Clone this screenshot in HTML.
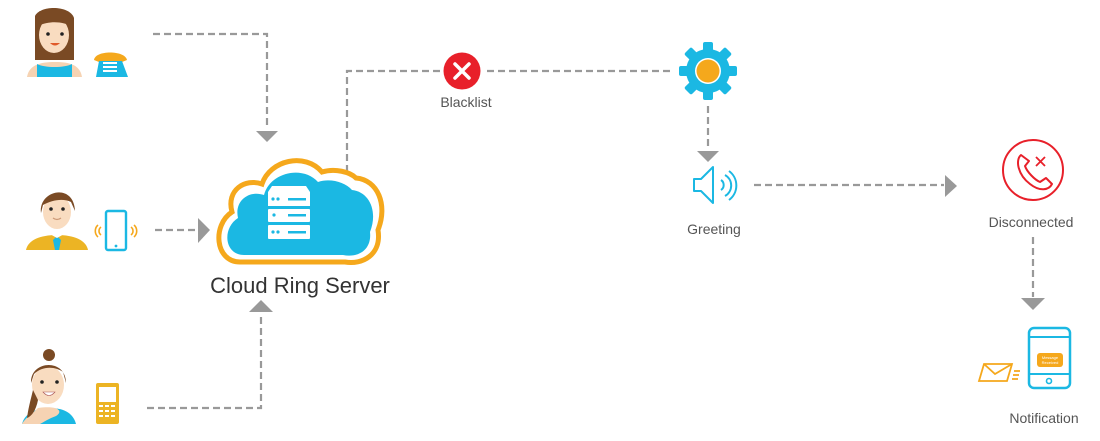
<!DOCTYPE html>
<html><head><meta charset="utf-8"><style>
html,body{margin:0;padding:0;background:#fff;width:1100px;height:441px;overflow:hidden}
svg{display:block}
text{font-family:"Liberation Sans",sans-serif}
</style></head><body>
<svg width="1100" height="441" viewBox="0 0 1100 441" xmlns="http://www.w3.org/2000/svg">
<g stroke="#999" stroke-width="2.2" fill="none" stroke-dasharray="7,4">
<path d="M153 34H267V128"/>
<path d="M155 230H198"/>
<path d="M147 408H261V314"/>
<path d="M347 172V71H444"/>
<path d="M487 71H672"/>
<path d="M708 106V150"/>
<path d="M754 185H944"/>
<path d="M1033 237V297"/>
</g>
<g fill="#999">
<path d="M256 131H278L267 142Z"/>
<path d="M198 218V243L210 230Z"/>
<path d="M249 312H273L261 300Z"/>
<path d="M697 151H719L708 162Z"/>
<path d="M945 175V197L957 186Z"/>
<path d="M1021 298H1045L1033 310Z"/>
</g>
<!-- cloud -->
<g>
<path d="M240 262 C215 262 212 225 232 212 C226 190 245 178 262 184 C270 160 305 152 322 172 C335 168 350 172 356 178 C378 180 388 205 378 230 C382 255 362 265 345 262 Z" fill="#fff" stroke="#f5a81c" stroke-width="5"/>
<path d="M244 255 C224 255 222 228 238 218 C234 200 250 190 264 195 C270 172 303 165 318 182 C330 178 345 182 352 190 C370 192 378 212 370 232 C372 250 358 258 343 255 Z" fill="#1bb8e3"/>
<g fill="#fff">
<path d="M268 192 L272 186 H306 L310 192 V206 H268Z"/>
<rect x="268" y="209" width="42" height="13" rx="1"/>
<rect x="268" y="225" width="42" height="14" rx="1"/>
</g>
<g fill="#1bb8e3">
<circle cx="273" cy="199" r="1.6"/><circle cx="278" cy="199" r="1.6"/><rect x="288" y="198" width="18" height="2.5"/>
<circle cx="274" cy="215" r="1.6"/><rect x="288" y="214" width="18" height="2.5"/>
<circle cx="273" cy="232" r="1.6"/><circle cx="278" cy="232" r="1.6"/><rect x="288" y="231" width="18" height="2.5"/>
</g>
</g>
<text x="300" y="293" font-size="22" fill="#333" text-anchor="middle">Cloud Ring Server</text>
<!-- blacklist -->
<circle cx="462" cy="71" r="18.5" fill="#e8202a"/>
<path d="M455 64L469 78M469 64L455 78" stroke="#fff" stroke-width="3.5" stroke-linecap="round"/>
<text x="466" y="107" font-size="14" fill="#555" text-anchor="middle">Blacklist</text>
<!-- gear -->
<g transform="translate(708,71)" fill="#1bb8e3">
<circle r="22"/>
<g id="t"><rect x="-5" y="-29" width="10" height="10" rx="2"/></g>
<use href="#t" transform="rotate(45)"/><use href="#t" transform="rotate(90)"/><use href="#t" transform="rotate(135)"/>
<use href="#t" transform="rotate(180)"/><use href="#t" transform="rotate(225)"/><use href="#t" transform="rotate(270)"/><use href="#t" transform="rotate(315)"/>
<circle r="13" fill="#fff"/><circle r="11.5" fill="#f5a81c"/>
</g>
<!-- speaker -->
<g stroke="#1bb8e3" stroke-width="2" fill="none" stroke-linejoin="round">
<path d="M694 179H701L713 167V203L701 191H694Z"/>
<path d="M721 180A6 6 0 0 1 721 190"/>
<path d="M725 175A12 12 0 0 1 725 196"/>
<path d="M729 171A18 18 0 0 1 729 200"/>
</g>
<text x="714" y="234" font-size="14" fill="#555" text-anchor="middle">Greeting</text>
<!-- disconnected -->
<circle cx="1033" cy="170" r="30" fill="none" stroke="#e8202a" stroke-width="2"/>
<path d="M1021 155 C1015 160 1018 175 1030 184 C1040 192 1049 190 1052 184 L1046 178 L1040 182 C1035 180 1027 172 1025 166 L1029 161 Z" fill="none" stroke="#e8202a" stroke-width="2" stroke-linejoin="round"/>
<path d="M1036 157L1045 166M1045 157L1036 166" stroke="#e8202a" stroke-width="1.8"/>
<text x="1031" y="227" font-size="14" fill="#555" text-anchor="middle">Disconnected</text>
<!-- notification phone -->
<rect x="1029" y="328" width="41" height="60" rx="5" fill="#fff" stroke="#1bb8e3" stroke-width="2.5"/>
<path d="M1029 337H1070M1029 374H1070" stroke="#1bb8e3" stroke-width="2"/>
<circle cx="1049" cy="381" r="2.5" fill="none" stroke="#1bb8e3" stroke-width="1.6"/>
<rect x="1037" y="353" width="26" height="14" rx="3" fill="#f5a81c"/>
<text x="1050" y="359" font-size="4" fill="#fff" text-anchor="middle">Message</text>
<text x="1050" y="364" font-size="4" fill="#fff" text-anchor="middle">Received</text>
<g stroke="#f5a81c" stroke-width="1.8" fill="none">
<path d="M984 364H1012L1007 381H979Z"/><path d="M984 364L995 374L1012 364"/>
<path d="M1014 371H1020M1013 375H1019M1012 379H1018"/>
</g>
<text x="1044" y="423" font-size="14" fill="#555" text-anchor="middle">Notification</text>
<!-- person 1 -->
<g>
<path d="M35 16 C40 5 70 5 74 18 L74 60 H35Z" fill="#7a4a24"/>
<path d="M27 77 C29 65 40 62 55 62 C70 62 80 65 82 77Z" fill="#f6d3b3"/>
<path d="M37 77 V64 C45 68 64 68 72 64 V77Z" fill="#1bb8e3"/>
<ellipse cx="54" cy="35" rx="15" ry="18" fill="#f9dcc0"/>
<path d="M38 26 C42 14 66 13 71 26 C64 22 50 20 38 26Z" fill="#7a4a24"/>
<circle cx="48" cy="34" r="1.8" fill="#222"/><circle cx="62" cy="34" r="1.8" fill="#222"/>
<path d="M50 43 Q55 48 60 43Z" fill="#e05a2a"/>
<path d="M94 60 C95 50 125 50 127 60 L122 62 H99Z" fill="#f5a81c"/>
<path d="M96 77 L99 61 H122 L128 77Z" fill="#1bb8e3"/>
<g fill="#fff"><rect x="103" y="62" width="14" height="2"/><rect x="103" y="66" width="14" height="2"/><rect x="103" y="70" width="14" height="2"/></g>
</g>
<!-- person 2 -->
<g>
<path d="M26 250 C28 240 40 235 57 235 C74 235 86 240 88 250Z" fill="#ecb424"/>
<path d="M53 240 L57 236 L61 240 L59 250 H55Z" fill="#1bb8e3"/>
<path d="M48 233 L57 238 L66 233" fill="#fff"/>
<ellipse cx="57" cy="212" rx="14" ry="17" fill="#f9dcc0"/>
<path d="M41 213 C38 190 74 182 75 211 L71 202 C63 198 52 200 43 205Z" fill="#7a4a24"/>
<circle cx="51" cy="209" r="1.8" fill="#222"/><circle cx="63" cy="209" r="1.8" fill="#222"/>
<path d="M53 218 Q57 221 61 218" stroke="#c97" stroke-width="1.2" fill="none"/>
<rect x="106" y="211" width="20" height="39" rx="2" fill="#fff" stroke="#1bb8e3" stroke-width="2.4"/>
<circle cx="116" cy="246" r="1.4" fill="#1bb8e3"/>
<g stroke="#f5a81c" stroke-width="1.6" fill="none">
<path d="M98 225 A8 8 0 0 0 98 237"/><path d="M101 227 A5 5 0 0 0 101 235"/>
<path d="M134 225 A8 8 0 0 1 134 237"/><path d="M131 227 A5 5 0 0 1 131 235"/>
</g>
</g>
<!-- person 3 -->
<g>
<path d="M22 424 C25 412 38 408 50 408 C62 408 73 412 76 424Z" fill="#1bb8e3"/>
<path d="M38 408 C60 405 63 412 56 416 C46 420 44 422 40 424 H22 C25 418 32 414 38 408Z" fill="#f6d3b3"/>
<ellipse cx="48" cy="385" rx="16" ry="19" fill="#f9dcc0"/>
<circle cx="49" cy="355" r="6" fill="#7a4a24"/>
<path d="M31 383 C30 360 66 358 66 383 L63 372 C55 366 42 366 34 374Z" fill="#7a4a24"/>
<path d="M33 390 C30 402 28 410 27 418 C32 416 36 410 38 400Z" fill="#7a4a24"/>
<circle cx="42" cy="382" r="1.8" fill="#222"/><circle cx="57" cy="382" r="1.8" fill="#222"/>
<path d="M43 392 Q49 399 55 392Z" fill="#fff" stroke="#a55" stroke-width="0.6"/>
<rect x="96" y="383" width="23" height="41" rx="2" fill="#ecb424"/>
<rect x="99" y="387" width="17" height="15" fill="#fff"/>
<g fill="#fff"><rect x="99" y="405" width="4" height="2"/><rect x="105" y="405" width="4" height="2"/><rect x="111" y="405" width="4" height="2"/>
<rect x="99" y="410" width="4" height="2"/><rect x="105" y="410" width="4" height="2"/><rect x="111" y="410" width="4" height="2"/>
<rect x="99" y="415" width="4" height="2"/><rect x="105" y="415" width="4" height="2"/><rect x="111" y="415" width="4" height="2"/></g>
</g>
</svg>
</body></html>
